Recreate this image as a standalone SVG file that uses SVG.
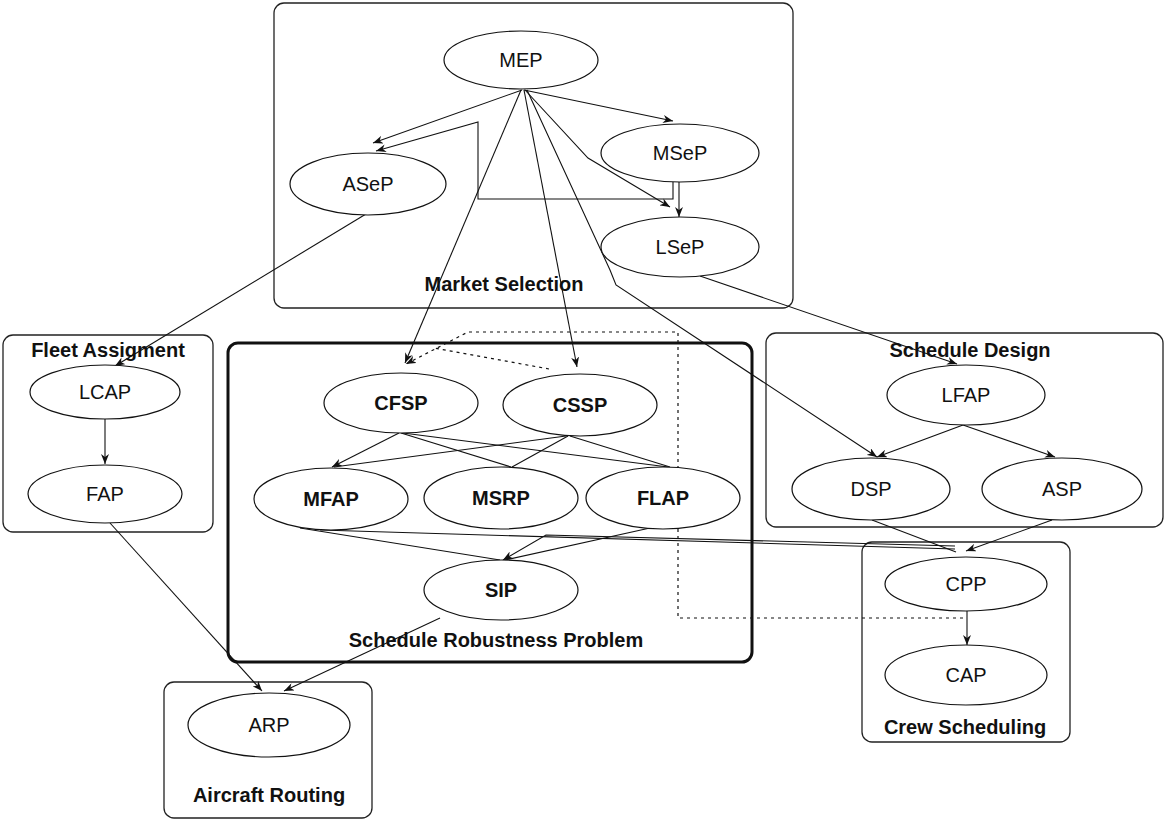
<svg xmlns="http://www.w3.org/2000/svg" width="1166" height="821" viewBox="0 0 1166 821">
<style>
.cl{fill:none;stroke:#222;stroke-width:1.3}
.clb{fill:none;stroke:#111;stroke-width:3}
.nd{fill:#fff;stroke:#111;stroke-width:1.2}
.t{font-family:"Liberation Sans",Arial,sans-serif;font-size:20px;fill:#111;text-anchor:middle}
.tb{font-family:"Liberation Sans",Arial,sans-serif;font-size:20px;font-weight:bold;fill:#111;text-anchor:middle}
.lb{font-family:"Liberation Sans",Arial,sans-serif;font-size:20px;font-weight:bold;fill:#111;text-anchor:middle}
.e{fill:none;stroke:#111;stroke-width:1.1}
.d{fill:none;stroke:#111;stroke-width:1.2;stroke-dasharray:3 4}
</style>
<defs>
<marker id="a" viewBox="0 0 10 8" refX="10" refY="4" markerWidth="10" markerHeight="8" markerUnits="userSpaceOnUse" orient="auto">
<path d="M0,0 L10,4 L0,8 L3,4 Z" fill="#111"/>
</marker>
</defs>
<rect width="1166" height="821" fill="#fff"/>
<g id="clusters">
<g id="cluster-market"><rect class="cl" x="274" y="3" width="519" height="305" rx="10"/><text class="lb" x="504" y="291">Market Selection</text></g>
<g id="cluster-fleet"><rect class="cl" x="3" y="335" width="210" height="197" rx="10"/><text class="lb" x="108" y="357">Fleet Assigment</text></g>
<g id="cluster-robust"><rect class="clb" x="228" y="343" width="524" height="319" rx="10"/><text class="lb" x="496" y="647">Schedule Robustness Problem</text></g>
<g id="cluster-design"><rect class="cl" x="766" y="333" width="397" height="194" rx="10"/><text class="lb" x="970" y="357">Schedule Design</text></g>
<g id="cluster-crew"><rect class="cl" x="862" y="542" width="208" height="200" rx="10"/><text class="lb" x="965" y="734">Crew Scheduling</text></g>
<g id="cluster-routing"><rect class="cl" x="164" y="682" width="208" height="136" rx="10"/><text class="lb" x="269" y="802">Aircraft Routing</text></g>
</g>
<g id="connectors">
<path class="e" d="M522,90 L373,143" marker-end="url(#a)"/>
<path class="e" d="M673,182 L673,199 L478,199 L478,122 L376,151" marker-end="url(#a)"/>
<path class="e" d="M524,90 L673,121" marker-end="url(#a)"/>
<path class="e" d="M525,90 L588,158 L670,207" marker-end="url(#a)"/>
<path class="e" d="M679,182 L679,217" marker-end="url(#a)"/>
<path class="e" d="M521,90 L405,363" marker-end="url(#a)"/>
<path class="e" d="M524,90 L577,367" marker-end="url(#a)"/>
<path class="e" d="M527,90 L610,270 L616,285 L877,457" marker-end="url(#a)"/>
<path class="e" d="M366,214 L115,366" marker-end="url(#a)"/>
<path class="e" d="M700,276 L957,364" marker-end="url(#a)"/>
<path class="e" d="M105,419 L105,464" marker-end="url(#a)"/>
<path class="e" d="M110,523 L262,691" marker-end="url(#a)"/>
<path class="e" d="M440,618 L284,691" marker-end="url(#a)"/>
<path class="e" d="M399,433 L332,467" marker-end="url(#a)"/>
<path class="e" d="M401,433 L511,467"/>
<path class="e" d="M403,433 L668,467"/>
<path class="e" d="M566,436 L334,467"/>
<path class="e" d="M568,436 L512,467"/>
<path class="e" d="M570,436 L670,467"/>
<path class="e" d="M300,528 L500,560"/>
<path class="e" d="M320,530 L955,549"/>
<path class="e" d="M955,546 L546,535 L503,560" marker-end="url(#a)"/>
<path class="e" d="M650,528 L505,560"/>
<path class="e" d="M872,520 L956,552"/>
<path class="e" d="M1052,520 L966,551" marker-end="url(#a)"/>
<path class="e" d="M963,425 L877,457" marker-end="url(#a)"/>
<path class="e" d="M963,425 L1055,457" marker-end="url(#a)"/>
<path class="e" d="M967,611 L967,645" marker-end="url(#a)"/>
<path class="d" d="M963,618 L678,618 L678,332 L468,332 L406,364" marker-end="url(#a)"/>
<path class="d" d="M549,369 L434,348"/>
</g>
<g id="MEP"><ellipse class="nd" cx="521" cy="60" rx="77" ry="29"/><text class="t" x="521" y="67">MEP</text></g>
<g id="ASeP"><ellipse class="nd" cx="368" cy="184" rx="78" ry="31"/><text class="t" x="368" y="191">ASeP</text></g>
<g id="MSeP"><ellipse class="nd" cx="680" cy="153" rx="79" ry="29"/><text class="t" x="680" y="160">MSeP</text></g>
<g id="LSeP"><ellipse class="nd" cx="680" cy="247" rx="79" ry="30"/><text class="t" x="680" y="254">LSeP</text></g>
<g id="LCAP"><ellipse class="nd" cx="105" cy="392" rx="75" ry="27"/><text class="t" x="105" y="399">LCAP</text></g>
<g id="FAP"><ellipse class="nd" cx="105" cy="494" rx="77" ry="29"/><text class="t" x="105" y="501">FAP</text></g>
<g id="CFSP"><ellipse class="nd" cx="401" cy="403" rx="77" ry="30"/><text class="tb" x="401" y="410">CFSP</text></g>
<g id="CSSP"><ellipse class="nd" cx="580" cy="405" rx="77" ry="31"/><text class="tb" x="580" y="412">CSSP</text></g>
<g id="MFAP"><ellipse class="nd" cx="331" cy="499" rx="77" ry="31"/><text class="tb" x="331" y="506">MFAP</text></g>
<g id="MSRP"><ellipse class="nd" cx="501" cy="498" rx="77" ry="31"/><text class="tb" x="501" y="505">MSRP</text></g>
<g id="FLAP"><ellipse class="nd" cx="663" cy="498" rx="77" ry="31"/><text class="tb" x="663" y="505">FLAP</text></g>
<g id="SIP"><ellipse class="nd" cx="501" cy="590" rx="77" ry="30"/><text class="tb" x="501" y="597">SIP</text></g>
<g id="LFAP"><ellipse class="nd" cx="966" cy="395" rx="79" ry="30"/><text class="t" x="966" y="402">LFAP</text></g>
<g id="DSP"><ellipse class="nd" cx="871" cy="489" rx="79" ry="31"/><text class="t" x="871" y="496">DSP</text></g>
<g id="ASP"><ellipse class="nd" cx="1062" cy="489" rx="80" ry="31"/><text class="t" x="1062" y="496">ASP</text></g>
<g id="CPP"><ellipse class="nd" cx="966" cy="584" rx="81" ry="27"/><text class="t" x="966" y="591">CPP</text></g>
<g id="CAP"><ellipse class="nd" cx="966" cy="675" rx="81" ry="30"/><text class="t" x="966" y="682">CAP</text></g>
<g id="ARP"><ellipse class="nd" cx="269" cy="725" rx="81" ry="32"/><text class="t" x="269" y="732">ARP</text></g>
</svg>
